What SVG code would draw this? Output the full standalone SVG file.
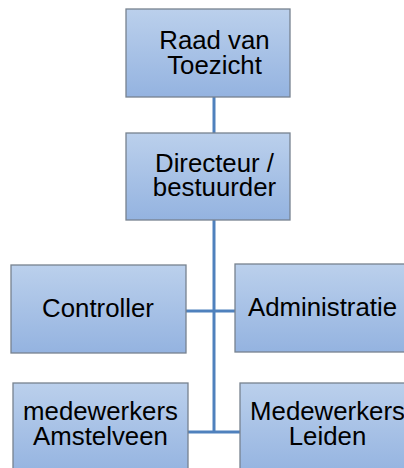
<svg xmlns="http://www.w3.org/2000/svg" width="404" height="468" viewBox="0 0 404 468">
<defs>
<linearGradient id="g" x1="0" y1="0" x2="0" y2="1">
<stop offset="0" stop-color="#bbd0ec"/>
<stop offset="1" stop-color="#94b3e0"/>
</linearGradient>
<style>
.box{fill:url(#g);stroke:#77828f;stroke-width:1.3}
.t{font-family:"Liberation Sans",Arial,sans-serif;font-size:25.8px;fill:#000;text-anchor:middle}
.c{stroke:#4f81bd;stroke-width:3;fill:none}
</style>
</defs>
<rect width="404" height="468" fill="#fff"/>
<g id="connectors">
<line class="c" x1="214" y1="97" x2="214" y2="133"/>
<line class="c" x1="214" y1="220" x2="214" y2="433"/>
<line class="c" x1="186" y1="311" x2="235" y2="311"/>
<line class="c" x1="188" y1="432" x2="240" y2="432"/>
</g>
<g id="raad">
<rect class="box" x="126" y="9" width="164" height="88"/>
<text class="t" x="214.5" y="49">Raad van</text>
<text class="t" x="214.5" y="74">Toezicht</text>
</g>
<g id="directeur">
<rect class="box" x="126" y="133" width="164" height="87"/>
<text class="t" x="214.5" y="171.5">Directeur /</text>
<text class="t" x="214.5" y="196">bestuurder</text>
</g>
<g id="controller">
<rect class="box" x="11" y="265" width="175" height="88"/>
<text class="t" x="98" y="317">Controller</text>
</g>
<g id="administratie">
<rect class="box" x="235" y="264" width="175" height="88"/>
<text class="t" x="322.5" y="316">Administratie</text>
</g>
<g id="amstelveen">
<rect class="box" x="13" y="383" width="175" height="92"/>
<text class="t" x="100.5" y="420">medewerkers</text>
<text class="t" x="100.5" y="445">Amstelveen</text>
</g>
<g id="leiden">
<rect class="box" x="240" y="383" width="175" height="92"/>
<text class="t" x="327.5" y="420">Medewerkers</text>
<text class="t" x="327.5" y="445">Leiden</text>
</g>
</svg>
